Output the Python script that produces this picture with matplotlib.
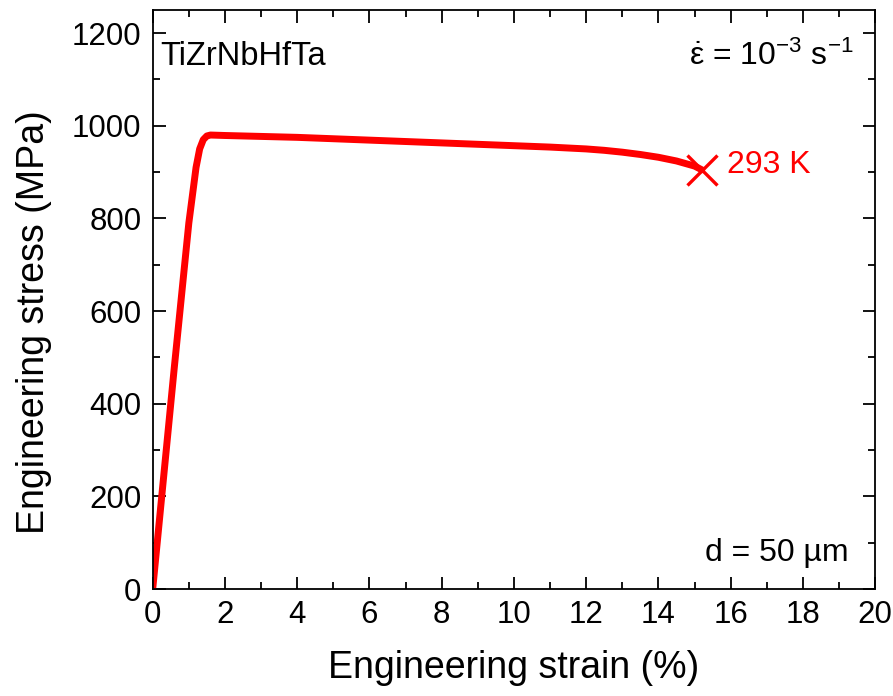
import numpy as np
import matplotlib.pyplot as plt
from matplotlib.ticker import MultipleLocator

plt.rcParams['font.family'] = ['Liberation Sans', 'DejaVu Sans']
plt.rcParams['mathtext.fontset'] = 'custom'
plt.rcParams['mathtext.rm'] = 'Liberation Sans'
plt.rcParams['mathtext.it'] = 'Liberation Sans'

# engineering stress-strain curve
strain = [0, 0.3, 0.6, 1.0, 1.1, 1.2, 1.3, 1.4, 1.5, 1.6, 2.0, 3.0, 4.0, 5.0,
          6.0, 7.0, 8.0, 9.0, 10.0, 11.0, 12.0, 12.5, 13.0, 13.5, 14.0, 14.5,
          15.0, 15.2]
stress = [0, 240, 480, 790, 850, 910, 950, 970, 978, 980, 979, 977, 975, 972,
          969, 966, 963, 960, 957, 954, 950, 947, 943, 938, 932, 924,
          913, 905]
fracture = (15.2, 905)

fig = plt.figure(figsize=(8.93, 6.96), dpi=100)
ax = fig.add_axes([0.171, 0.1537, 0.809, 0.832])

ax.plot(strain, stress, color='#ff0000', lw=5, solid_capstyle='round',
        solid_joinstyle='round')
ax.plot(fracture[0], fracture[1], marker='x', color='#ff0000', ms=21, mew=2.4)
ax.text(fracture[0] + 0.7, fracture[1] + 10, '293 K', color='#ff0000',
        fontsize=23, va='center', ha='left')

ax.text(0.01, 0.92, 'TiZrNbHfTa', transform=ax.transAxes, fontsize=23.5,
        va='center', ha='left')
ax.text(0.97, 0.92, r'$\dot{\varepsilon}$ = 10$^{-3}$ s$^{-1}$',
        transform=ax.transAxes, fontsize=23, va='center', ha='right')
ax.text(0.963, 0.062, 'd = 50 µm', transform=ax.transAxes, fontsize=23,
        va='center', ha='right')

ax.set_xlim(0, 20)
ax.set_ylim(0, 1250)
ax.xaxis.set_major_locator(MultipleLocator(2))
ax.xaxis.set_minor_locator(MultipleLocator(1))
ax.yaxis.set_major_locator(MultipleLocator(200))
ax.yaxis.set_minor_locator(MultipleLocator(100))
ax.tick_params(which='both', direction='in', top=True, right=True,
               labelsize=22.5, width=1.3, pad=8)
ax.tick_params(which='major', length=9)
ax.tick_params(which='minor', length=5)
for s in ax.spines.values():
    s.set_linewidth(1.3)

ax.set_xlabel('Engineering strain (%)', fontsize=27, labelpad=14)
ax.set_ylabel('Engineering stress (MPa)', fontsize=27)
ax.yaxis.set_label_coords(-0.140, 0.461)

fig.savefig('out.png', dpi=100)
